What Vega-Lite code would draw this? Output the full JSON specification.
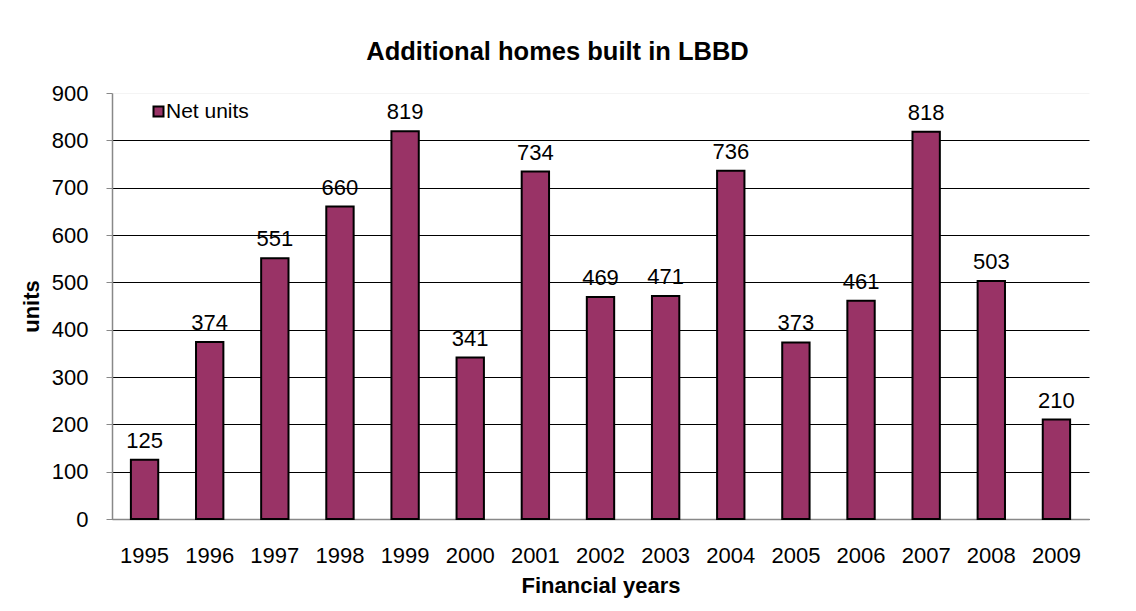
{
  "$schema": "https://vega.github.io/schema/vega-lite/v6.json",
  "width": 977,
  "height": 426,
  "autosize": "none",
  "padding": {"left": 112, "top": 93, "right": 47, "bottom": 92},
  "background": "white",
  "title": {"text": "Additional homes built in LBBD", "font": "Liberation Sans", "fontSize": 25.5, "fontWeight": "bold", "color": "#000", "anchor": "middle", "dx": -43, "offset": 17},
  "config": {
    "view": {"stroke": null},
    "font": "Liberation Sans",
    "axis": {"labelFont": "Liberation Sans", "titleFont": "Liberation Sans", "labelColor": "#000", "titleColor": "#000", "labelFontSize": 22, "titleFontSize": 22, "titleFontWeight": "bold"}
  },
  "data": {"values": [
    {"year": "1995", "units": 125}, {"year": "1996", "units": 374}, {"year": "1997", "units": 551},
    {"year": "1998", "units": 660}, {"year": "1999", "units": 819}, {"year": "2000", "units": 341},
    {"year": "2001", "units": 734}, {"year": "2002", "units": 469}, {"year": "2003", "units": 471},
    {"year": "2004", "units": 736}, {"year": "2005", "units": 373}, {"year": "2006", "units": 461},
    {"year": "2007", "units": 818}, {"year": "2008", "units": 503}, {"year": "2009", "units": 210}
  ]},
  "encoding": {
    "x": {"field": "year", "type": "nominal", "sort": null, "title": "Financial years",
      "scale": {"paddingInner": 0.58, "paddingOuter": 0.29},
      "axis": {"labelAngle": 0, "ticks": false, "domainColor": "#888", "domainWidth": 1.5, "labelPadding": 26, "titlePadding": 9}},
    "y": {"field": "units", "type": "quantitative", "title": "units",
      "scale": {"domain": [0, 900]},
      "axis": {"values": [0,100,200,300,400,500,600,700,800,900], "domainColor": "#888", "domainWidth": 1.5, "tickColor": "#888", "tickSize": 6, "labelPadding": 18, "titlePadding": 8,
        "gridColor": {"condition": {"test": "datum.value === 900", "value": "#f4f4f4"}, "value": "#000"}, "gridOpacity": 1}}
  },
  "layer": [
    {"mark": {"type": "bar", "stroke": "#000", "strokeWidth": 2},
     "encoding": {"color": {"datum": "Net units", "type": "nominal", "scale": {"range": ["#993366"]},
       "legend": {"title": null, "orient": "none", "legendX": 36, "legendY": 8, "symbolType": "square", "symbolSize": 100, "symbolStrokeColor": "#000", "symbolStrokeWidth": 2, "labelFontSize": 21, "labelFont": "Liberation Sans", "labelColor": "#000", "labelOffset": -3}}}},
    {"mark": {"type": "text", "baseline": "alphabetic", "dy": -12, "fontSize": 22, "font": "Liberation Sans", "color": "#000"},
     "encoding": {"text": {"field": "units", "type": "quantitative"}}}
  ]
}
